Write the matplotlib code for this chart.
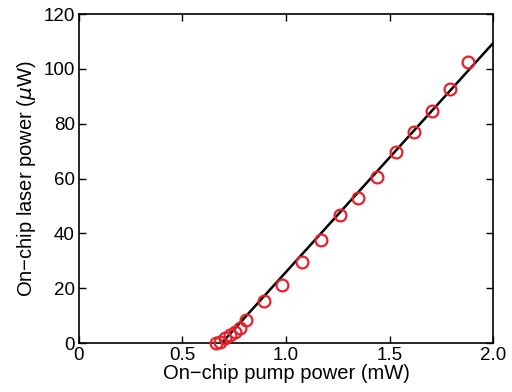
import matplotlib
matplotlib.use("Agg")
import matplotlib.pyplot as plt
import numpy as np

plt.rcParams['font.family'] = ['Liberation Sans', 'DejaVu Sans']

pump = [0.662, 0.681, 0.705, 0.729, 0.754, 0.778, 0.807, 0.894, 0.981, 1.077,
        1.169, 1.261, 1.348, 1.440, 1.531, 1.618, 1.705, 1.792, 1.879]
laser = [0.1, 0.5, 1.7, 2.9, 4.1, 5.5, 8.4, 15.3, 21.2, 29.5,
         37.6, 46.7, 52.9, 60.5, 69.7, 77.0, 84.6, 92.6, 102.5]
fit_x = [0.69, 2.0]
fit_y = [0.0, 109.4]

xticks = [0, 0.5, 1.0, 1.5, 2.0]
xticklabels = ['0', '0.5', '1.0', '1.5', '2.0']
yticks = [0, 20, 40, 60, 80, 100, 120]

fig = plt.figure(figsize=(5.12, 3.92), dpi=100)
ax = fig.add_axes([0.154, 0.125, 0.809, 0.839])
ax.plot(fit_x, fit_y, color='black', lw=1.8, zorder=3)
ax.plot(pump, laser, 'o', mfc='none', mec='#e8202a', mew=1.6, ms=8.5,
        clip_on=False, zorder=4)
ax.set_xlim(0, 2.0)
ax.set_ylim(0, 120)
ax.set_xticks(xticks)
ax.set_xticklabels(xticklabels)
ax.set_yticks(yticks)
ax.tick_params(direction='in', top=True, right=True, labelsize=13.5,
               length=5, width=1, pad=3)
for s in ax.spines.values():
    s.set_linewidth(1.2)
ax.set_xlabel('On\u2212chip pump power (mW)', fontsize=14.5, labelpad=0)
ax.set_ylabel('On\u2212chip laser power ($\\mu$W)', fontsize=14.5, labelpad=4)
fig.savefig('out.png', dpi=100)
